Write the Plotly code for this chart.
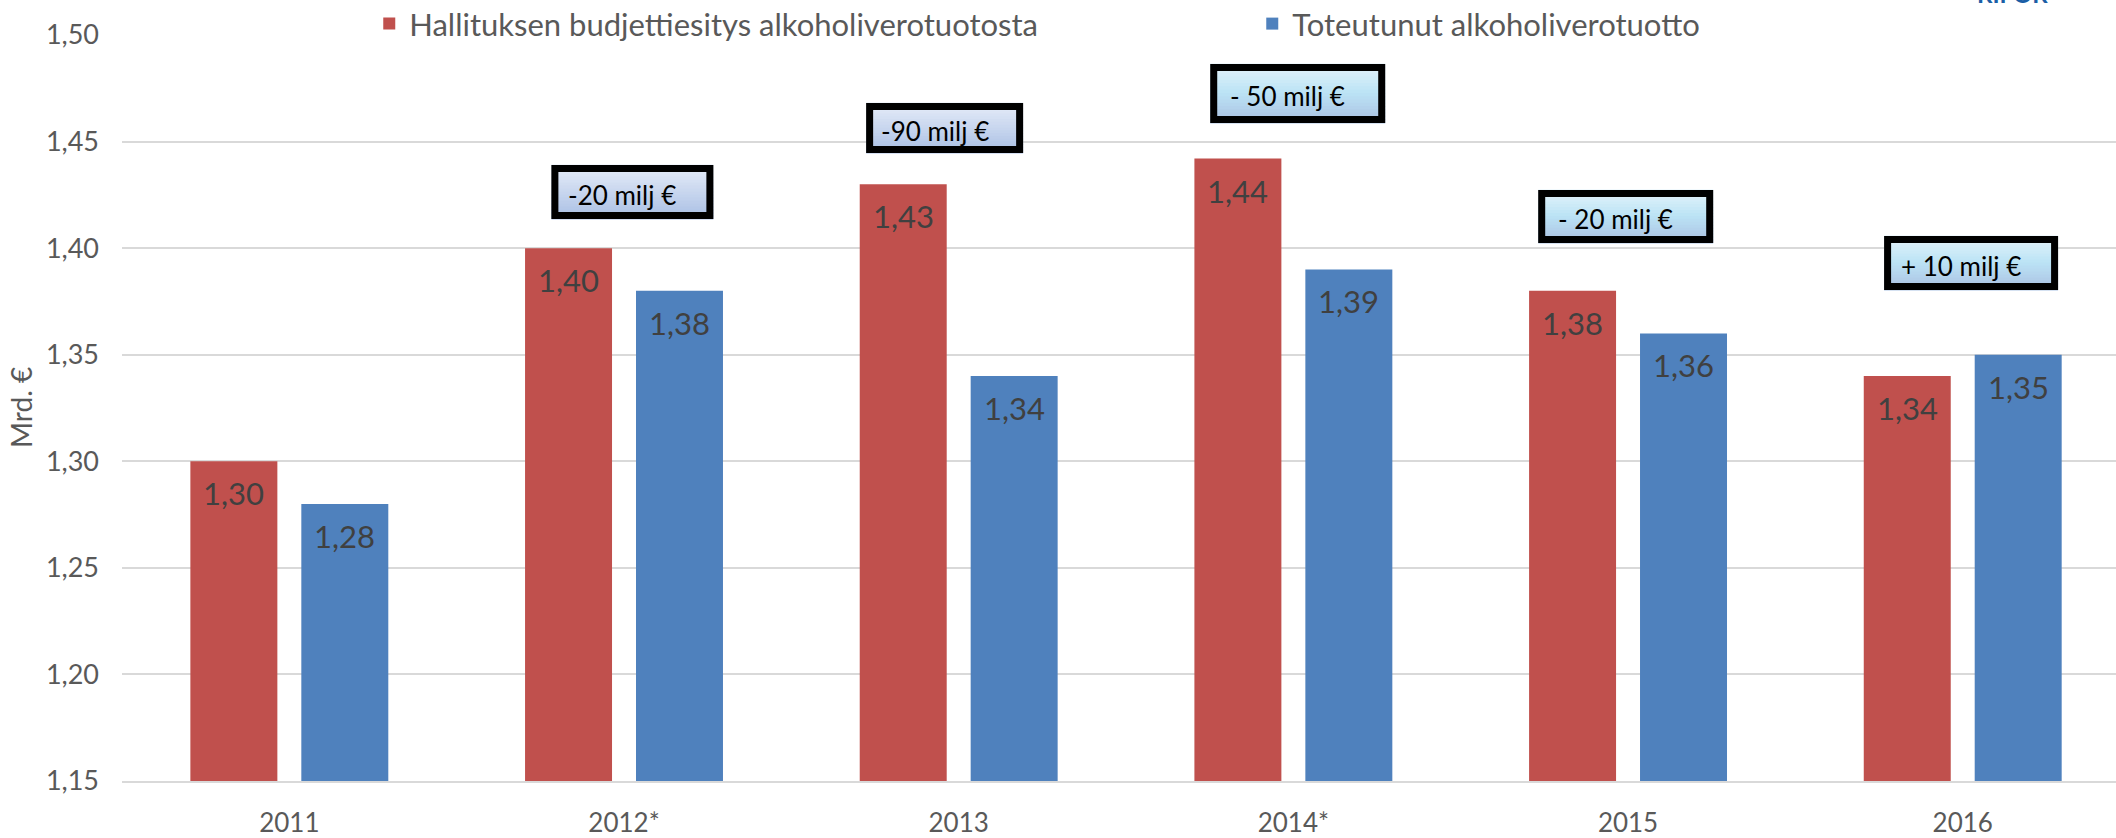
import plotly.graph_objects as go

# ---- data ----
years = ["2011", "2012*", "2013", "2014*", "2015", "2016"]
budget = [1.30, 1.40, 1.43, 1.442, 1.38, 1.34]      # Hallituksen budjettiesitys
actual = [1.28, 1.38, 1.34, 1.39, 1.36, 1.35]       # Toteutunut
series_names = ["Hallituksen budjettiesitys alkoholiverotuotosta", "Toteutunut alkoholiverotuotto"]
diff_years = [1, 2, 3, 4, 5]
diff_labels = ["-20 milj €", "-90 milj €", "- 50 milj €", "- 20 milj €", "+ 10 milj €"]
y_ticks = [1.15, 1.20, 1.25, 1.30, 1.35, 1.40, 1.45, 1.50]

# ---- styling / layout ----
RED = "#C0504D"
BLUE = "#4F81BD"
GRID = "#d9d9d9"
TXT = "#595959"
FONT = "Lato"
BARGAP = 0.337
BARGROUPGAP = 0.216

# box placement: (x offset in categories, y centre in data units, width px, height px, style)
box_pos = [
    (0.025, 1.4263, 162, 54, "lav"),
    (-0.042, 1.4564, 157, 50, "lav"),
    (0.013, 1.4726, 175, 59, "cyan"),
    (-0.007, 1.4149, 175, 53, "cyan"),
    (0.025, 1.3930, 174, 54, "cyan"),
]
grad = {
    "lav": [(0.0, (232, 238, 249)), (1.0, (169, 191, 228))],
    "cyan": [(0.0, (230, 244, 251)), (0.5, (187, 227, 245)), (1.0, (171, 193, 226))],
}


def interp(stops, t):
    for (t0, c0), (t1, c1) in zip(stops[:-1], stops[1:]):
        if t0 <= t <= t1:
            f = (t - t0) / (t1 - t0) if t1 > t0 else 0
            c = [round(a + (b - a) * f) for a, b in zip(c0, c1)]
            return "rgb(%d,%d,%d)" % tuple(c)
    return "rgb(%d,%d,%d)" % stops[-1][1]


def fmt(v):
    return f"{v:.2f}".replace(".", ",")


fig = go.Figure()
fig.add_trace(go.Bar(x=years, y=budget, name=series_names[0], marker=dict(color=RED, line=dict(width=0))))
fig.add_trace(go.Bar(x=years, y=actual, name=series_names[1], marker=dict(color=BLUE, line=dict(width=0))))

annotations = []
slot = (1 - BARGAP) / 2
for i, (b, a) in enumerate(zip(budget, actual)):
    for val, off in ((b, -slot / 2), (a, slot / 2)):
        annotations.append(dict(x=i + off, y=val, xref="x", yref="y", text=fmt(val),
                                showarrow=False, yshift=-32, yanchor="middle",
                                font=dict(family=FONT, size=31, color="#404040")))

shapes = []
N = 18
for idx, lab, (dx, yc, w, h, style) in zip(diff_years, diff_labels, box_pos):
    xa = idx + dx
    for j in range(N):
        t = (j + 0.5) / N
        shapes.append(dict(type="rect", xref="x", yref="y", xsizemode="pixel", ysizemode="pixel",
                           xanchor=xa, yanchor=yc, x0=-w / 2, x1=w / 2,
                           y0=h / 2 - (j + 1) * h / N - 0.5, y1=h / 2 - j * h / N + 0.5,
                           fillcolor=interp(grad[style], t), line=dict(width=0), layer="above"))
    shapes.append(dict(type="rect", xref="x", yref="y", xsizemode="pixel", ysizemode="pixel",
                       xanchor=xa, yanchor=yc, x0=-w / 2 + 3.5, x1=w / 2 - 3.5,
                       y0=-h / 2 + 3.5, y1=h / 2 - 3.5,
                       line=dict(color="black", width=7), fillcolor="rgba(0,0,0,0)", layer="above"))
    annotations.append(dict(x=xa, y=yc, xref="x", yref="y", text=lab, showarrow=False,
                            xshift=-10, yshift=-3, font=dict(family=FONT, size=26, color="black")))

# y axis title
annotations.append(dict(x=-0.0507, y=0.5013, xref="paper", yref="paper", text="Mrd. €", textangle=-90,
                        showarrow=False, xanchor="center", yanchor="middle",
                        font=dict(family=FONT, size=28, color=TXT)))
# partial logo text at the top right corner
annotations.append(dict(x=0.948, y=1.0335, xref="paper", yref="paper", text="<b>RIFOR</b>",
                        showarrow=False, yanchor="bottom", xanchor="center",
                        font=dict(family=FONT, size=24, color="#1b5ea6")))

fig.update_layout(
    width=2116, height=838,
    margin=dict(l=122, r=0, t=35, b=57, autoexpand=False),
    paper_bgcolor="white", plot_bgcolor="white",
    separators=", ",
    barmode="group", bargap=BARGAP, bargroupgap=BARGROUPGAP,
    font=dict(family=FONT, color=TXT),
    showlegend=True,
    legend=dict(orientation="h", x=0.124, xanchor="left", y=1.0148, yanchor="middle",
                font=dict(family=FONT, size=31, color=TXT), entrywidth=838,
                bgcolor="rgba(0,0,0,0)", traceorder="normal"),
    xaxis=dict(type="category", range=[-0.5, 5.458], showgrid=False, showline=True,
               linecolor=GRID, linewidth=2, ticks="", ticklabelstandoff=18,
               tickfont=dict(family=FONT, size=26, color=TXT)),
    yaxis=dict(range=[1.15, 1.50], tickvals=y_ticks, tickformat=".2f", showgrid=True,
               gridcolor=GRID, gridwidth=1.5, zeroline=False, showline=False, ticks="",
               ticklabelstandoff=22, tickfont=dict(family=FONT, size=27, color=TXT)),
    shapes=shapes, annotations=annotations,
)

fig.write_html("out.html", config={"displayModeBar": False},
               post_script="document.body.style.margin='0';")
